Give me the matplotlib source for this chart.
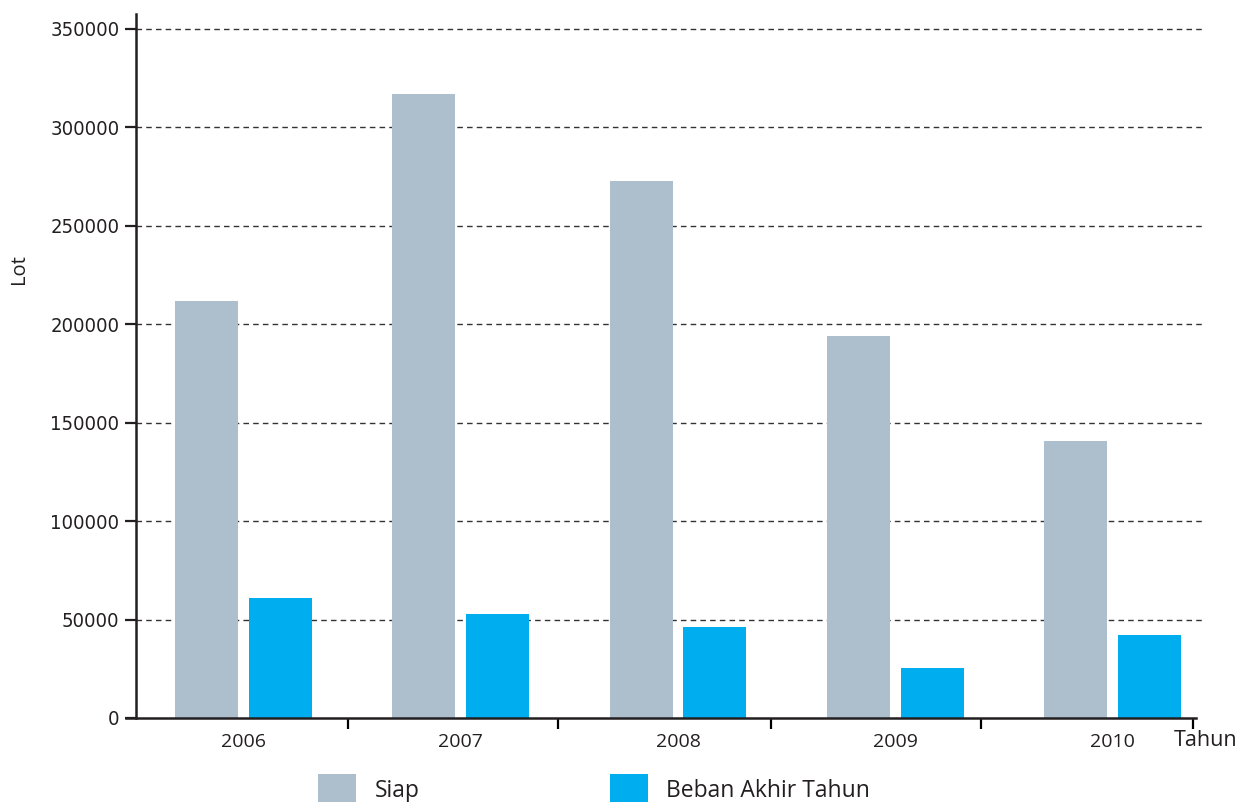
import matplotlib
matplotlib.use('Agg')
import matplotlib.pyplot as plt
from matplotlib import font_manager
import numpy as np

years = ['2006', '2007', '2008', '2009', '2010']
siap = [212000, 317000, 273000, 194000, 140500]
beban = [61000, 53000, 46000, 25500, 42000]

c_siap = '#adbfcd'
c_beban = '#00aeef'

plt.rcParams['font.family'] = ['Open Sans', 'DejaVu Sans']

# narrow face for the value axis if one is around
names = {f.name for f in font_manager.fontManager.ttflist}
narrow = None
for cand in ['Liberation Sans Narrow', 'DejaVu Sans Condensed']:
    if cand in names:
        narrow = cand
        break

fig = plt.figure(figsize=(12.46, 8.02), dpi=100)
ax = fig.add_axes([0.10915, 0.10474, 0.85794, 0.87780])

x = np.arange(len(years))
w = 0.29
off = 0.17
ax.bar(x - off, siap, w, color=c_siap, label='Siap', zorder=2)
ax.bar(x + off, beban, w, color=c_beban, label='Beban Akhir Tahun', zorder=2)

ax.set_xlim(-0.4948, 4.4258)
ax.set_ylim(0, 357600)

# dashed grid lines
for v in range(50000, 350001, 50000):
    ax.axhline(v, color='#333333', lw=1.0, ls=(0, (4, 3)), zorder=1)

ax.set_yticks(range(0, 350001, 50000))
if narrow:
    ax.set_yticklabels([str(v) for v in range(0, 350001, 50000)],
                       family=[narrow, 'DejaVu Sans'], fontsize=16)
else:
    ax.set_yticklabels([str(v) for v in range(0, 350001, 50000)],
                       family='DejaVu Sans', stretch='condensed', fontsize=14.5)
ax.tick_params(axis='y', length=8, width=1.6, pad=4, colors='#231f20')

# year labels centred under bar pairs, separators as minor ticks
ax.set_xticks(x)
ax.set_xticklabels(years, fontsize=14, color='#231f20')
ax.tick_params(axis='x', which='major', length=0, pad=11)
ax.set_xticks([0.480, 1.448, 2.427, 3.397, 4.369], minor=True)
ax.tick_params(axis='x', which='minor', length=8, width=1.6, direction='out')

for s in ['top', 'right']:
    ax.spines[s].set_visible(False)
for s in ['left', 'bottom']:
    ax.spines[s].set_linewidth(1.8)
    ax.spines[s].set_color('#231f20')
ax.spines['bottom'].set_bounds(-0.541, 4.384)

ax.set_ylabel('Lot', fontsize=14.5, color='#231f20', labelpad=0)
ax.yaxis.set_label_coords(-0.1, 0.637)
fig.text(1174 / 1246, 1 - 740 / 802, 'Tahun', fontsize=15.5, color='#231f20',
         ha='left', va='center')

fig.legend(loc='center left', bbox_to_anchor=(307 / 1246, 1 - 789 / 802),
           ncol=2, frameon=False, fontsize=16.5, borderpad=0,
           handlelength=1.65, handleheight=1.6, handletextpad=0.8,
           columnspacing=8.3, labelcolor='#231f20')

fig.savefig('out.png', dpi=100)
